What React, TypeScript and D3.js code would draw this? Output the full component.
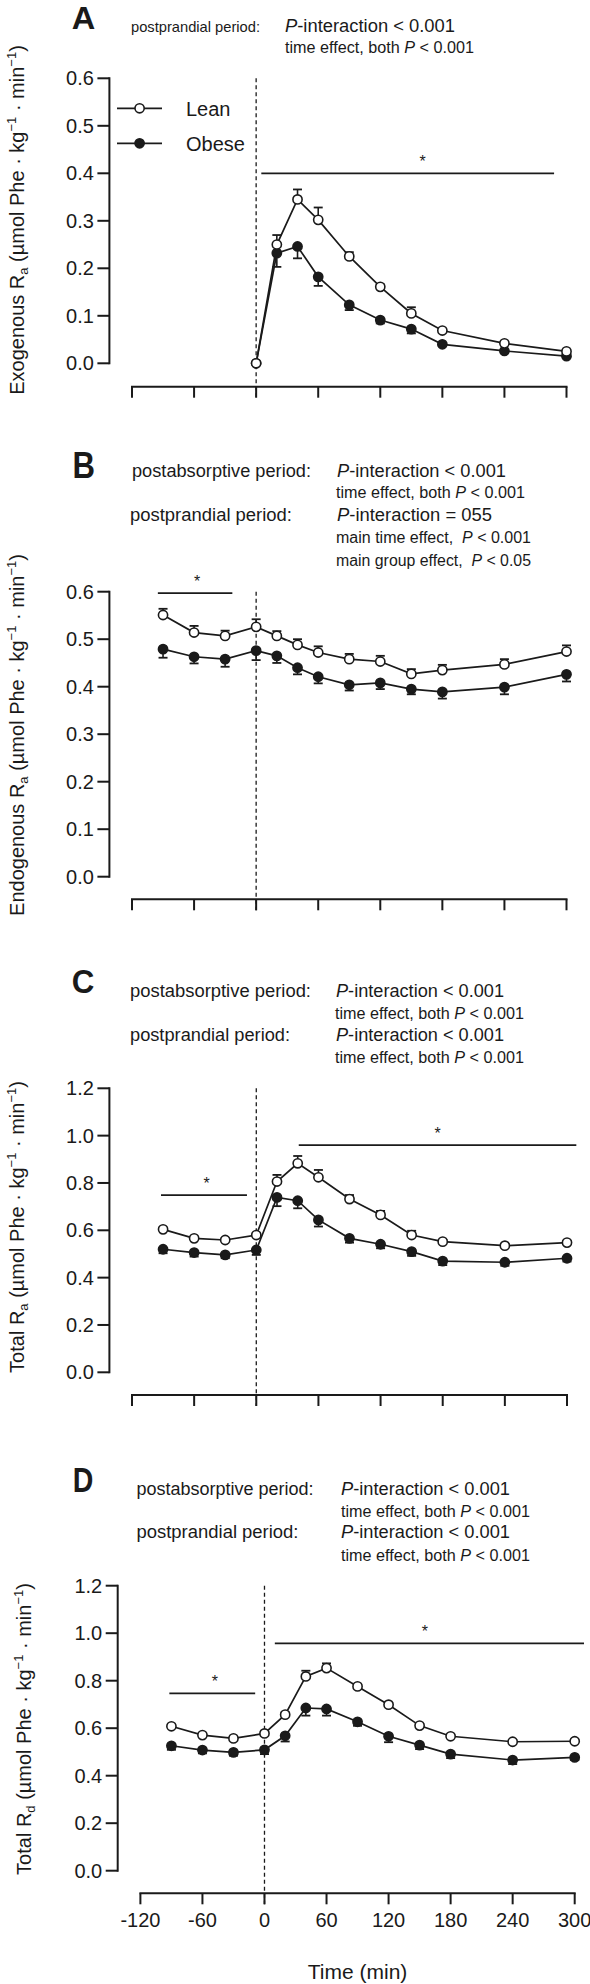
import React from 'react';
import * as d3 from 'd3';

// ---------- data ----------
const timesAll = [-90, -60, -30, 0, 20, 40, 60, 90, 120, 150, 180, 240, 300];
const timesPost = [0, 20, 40, 60, 90, 120, 150, 180, 240, 300];
const xTickValues = [-120, -60, 0, 60, 120, 180, 240, 300];
const yTicksSmall = [0, 0.1, 0.2, 0.3, 0.4, 0.5, 0.6];
const yTicksLarge = [0, 0.2, 0.4, 0.6, 0.8, 1.0, 1.2];

const exoLean = [0, 0.25, 0.345, 0.302, 0.225, 0.161, 0.105, 0.069, 0.042, 0.025];
const exoLeanSem = [0, 0.02, 0.021, 0.026, 0.009, 0.005, 0.013, 0.004, 0.004, 0.003];
const exoObese = [0, 0.232, 0.246, 0.182, 0.123, 0.091, 0.072, 0.04, 0.026, 0.015];
const exoObeseSem = [0, 0.029, 0.025, 0.019, 0.011, 0.007, 0.009, 0.004, 0.003, 0.003];

const endoLean = [0.551, 0.514, 0.507, 0.526, 0.507, 0.488, 0.472, 0.458, 0.453, 0.427, 0.435, 0.447, 0.474];
const endoLeanSem = [0.013, 0.014, 0.011, 0.016, 0.01, 0.012, 0.013, 0.011, 0.012, 0.01, 0.011, 0.011, 0.013];
const endoObese = [0.479, 0.463, 0.458, 0.476, 0.465, 0.44, 0.421, 0.404, 0.408, 0.395, 0.389, 0.399, 0.426];
const endoObeseSem = [0.018, 0.014, 0.016, 0.02, 0.015, 0.014, 0.014, 0.012, 0.013, 0.011, 0.014, 0.015, 0.015];

const raLean = [0.604, 0.566, 0.559, 0.58, 0.806, 0.883, 0.824, 0.732, 0.665, 0.58, 0.552, 0.535, 0.548];
const raLeanSem = [0.008, 0.008, 0.008, 0.008, 0.028, 0.031, 0.031, 0.017, 0.017, 0.018, 0.008, 0.008, 0.008];
const raObese = [0.52, 0.506, 0.496, 0.517, 0.739, 0.725, 0.644, 0.566, 0.541, 0.51, 0.47, 0.465, 0.482];
const raObeseSem = [0.017, 0.017, 0.014, 0.021, 0.037, 0.032, 0.028, 0.018, 0.017, 0.018, 0.017, 0.015, 0.014];

const rdLean = [0.608, 0.571, 0.557, 0.578, 0.657, 0.818, 0.853, 0.776, 0.699, 0.611, 0.566, 0.543, 0.545];
const rdLeanSem = [0.008, 0.008, 0.008, 0.008, 0.01, 0.024, 0.02, 0.008, 0.008, 0.008, 0.008, 0.008, 0.008];
const rdObese = [0.526, 0.508, 0.498, 0.509, 0.568, 0.685, 0.681, 0.627, 0.566, 0.529, 0.491, 0.466, 0.477];
const rdObeseSem = [0.017, 0.014, 0.014, 0.018, 0.024, 0.032, 0.028, 0.017, 0.025, 0.017, 0.017, 0.017, 0.011];

// significance bars: [from, to, level, asteriskTime]
const sigA = [[5, 288, 0.4, 161]];
const sigB = [[-95, -23, 0.597, -57]];
const sigC = [[-92, -9, 0.749, -48], [41, 309, 0.96, 175]];
const sigD = [[-92, -9, 0.747, -48], [10, 309, 0.957, 155]];

const FONT = '"Liberation Sans", Arial, Helvetica, sans-serif';

type Seg = { t: string; i?: boolean };
type HLine = { x: number; y: number; w: number; fs: number; segs: Seg[] };

const P = (rest: string): Seg[] => [{ t: 'P', i: true }, { t: rest }];
const timeBoth = (x: number, y: number): HLine => ({ x, y, w: 189, fs: 16.5, segs: [{ t: 'time effect, both ' }, { t: 'P', i: true }, { t: ' < 0.001' }] });

const headersA: HLine[] = [
  { x: 131, y: 32, w: 129, fs: 15, segs: [{ t: 'postprandial period:' }] },
  { x: 285, y: 32, w: 170, fs: 17.5, segs: P('-interaction < 0.001') },
  timeBoth(285, 53),
];
const headersB: HLine[] = [
  { x: 132, y: 477, w: 179, fs: 17.5, segs: [{ t: 'postabsorptive period:' }] },
  { x: 337, y: 477, w: 169, fs: 17.5, segs: P('-interaction < 0.001') },
  timeBoth(336, 498),
  { x: 130, y: 521, w: 162, fs: 17.5, segs: [{ t: 'postprandial period:' }] },
  { x: 337, y: 521, w: 155, fs: 17.5, segs: P('-interaction = 055') },
  { x: 336, y: 543, w: 195, fs: 16, segs: [{ t: 'main time effect,  ' }, { t: 'P', i: true }, { t: ' < 0.001' }] },
  { x: 336, y: 566, w: 195, fs: 16, segs: [{ t: 'main group effect,  ' }, { t: 'P', i: true }, { t: ' < 0.05' }] },
];
const headersC: HLine[] = [
  { x: 130, y: 997, w: 181, fs: 17.5, segs: [{ t: 'postabsorptive period:' }] },
  { x: 336, y: 997, w: 168, fs: 17.5, segs: P('-interaction < 0.001') },
  timeBoth(335, 1019),
  { x: 130, y: 1041, w: 160, fs: 17.5, segs: [{ t: 'postprandial period:' }] },
  { x: 336, y: 1041, w: 168, fs: 17.5, segs: P('-interaction < 0.001') },
  timeBoth(335, 1063),
];
const headersD: HLine[] = [
  { x: 136.5, y: 1495, w: 177, fs: 17.5, segs: [{ t: 'postabsorptive period:' }] },
  { x: 341, y: 1495, w: 169, fs: 17.5, segs: P('-interaction < 0.001') },
  timeBoth(341, 1517),
  { x: 136.5, y: 1538, w: 162, fs: 17.5, segs: [{ t: 'postprandial period:' }] },
  { x: 341, y: 1538, w: 169, fs: 17.5, segs: P('-interaction < 0.001') },
  timeBoth(341, 1561),
];

type Series = { t: number[]; v: number[]; e: number[] };
type PanelCfg = {
  letter: string; letterX: number; letterY: number; letterFs: number; letterW: number;
  headers: HLine[];
  yAxisX: number; yTop: number; yBottom: number; yMax: number; yTicks: number[];
  xAxisY: number; x0: number; x1: number;
  lean: Series; obese: Series;
  sig: number[][];
  labelMain: string; labelSub: string; labelCx: number; labelCy: number;
  xLabels?: boolean; legend?: boolean;
};

const panels: PanelCfg[] = [
  {
    letter: 'A', letterX: 71.7, letterY: 29, letterFs: 31, letterW: 23.5, headers: headersA,
    yAxisX: 109.4, yTop: 78.3, yBottom: 363.3, yMax: 0.6, yTicks: yTicksSmall,
    xAxisY: 386.7, x0: 132, x1: 566.5,
    lean: { t: timesPost, v: exoLean, e: exoLeanSem },
    obese: { t: timesPost, v: exoObese, e: exoObeseSem },
    sig: sigA, labelMain: 'Exogenous R', labelSub: 'a', labelCx: 23.5, labelCy: 220, legend: true,
  },
  {
    letter: 'B', letterX: 72.5, letterY: 478, letterFs: 36, letterW: 22.5, headers: headersB,
    yAxisX: 109.4, yTop: 591.7, yBottom: 876.7, yMax: 0.6, yTicks: yTicksSmall,
    xAxisY: 899.3, x0: 132, x1: 566.5,
    lean: { t: timesAll, v: endoLean, e: endoLeanSem },
    obese: { t: timesAll, v: endoObese, e: endoObeseSem },
    sig: sigB, labelMain: 'Endogenous R', labelSub: 'a', labelCx: 23.5, labelCy: 735,
  },
  {
    letter: 'C', letterX: 71.7, letterY: 993, letterFs: 34, letterW: 22.6, headers: headersC,
    yAxisX: 109.4, yTop: 1088.3, yBottom: 1372.3, yMax: 1.2, yTicks: yTicksLarge,
    xAxisY: 1395, x0: 132, x1: 567,
    lean: { t: timesAll, v: raLean, e: raLeanSem },
    obese: { t: timesAll, v: raObese, e: raObeseSem },
    sig: sigC, labelMain: 'Total R', labelSub: 'a', labelCx: 23.5, labelCy: 1227,
  },
  {
    letter: 'D', letterX: 72.7, letterY: 1492, letterFs: 35, letterW: 20.6, headers: headersD,
    yAxisX: 117.7, yTop: 1585.7, yBottom: 1870.7, yMax: 1.2, yTicks: yTicksLarge,
    xAxisY: 1893.3, x0: 140.4, x1: 574.7,
    lean: { t: timesAll, v: rdLean, e: rdLeanSem },
    obese: { t: timesAll, v: rdObese, e: rdObeseSem },
    sig: sigD, labelMain: 'Total R', labelSub: 'd', labelCx: 31, labelCy: 1729, xLabels: true,
  },
];

const INK = '#1a1a1a';

function Header({ h }: { h: HLine }) {
  return (
    <text x={h.x} y={h.y} fontSize={h.fs} fontFamily={FONT} fill={INK} textLength={h.w} lengthAdjust="spacingAndGlyphs" xmlSpace="preserve">
      {h.segs.map((s, i) => (
        <tspan key={i} fontStyle={s.i ? 'italic' : 'normal'}>{s.t}</tspan>
      ))}
    </text>
  );
}

function Panel({ p }: { p: PanelCfg }) {
  const x = d3.scaleLinear().domain([-120, 300]).range([p.x0, p.x1]);
  const y = d3.scaleLinear().domain([0, p.yMax]).range([p.yBottom, p.yTop]);
  const path = (s: Series) =>
    d3.line<number>().x((_, i) => x(s.t[i])).y((d) => y(d))(s.v) || '';
  const fmt = d3.format('.1f');
  const cap = 4.5;
  const errBars = (s: Series, dir: number) =>
    s.v.map((v, i) => {
      if (s.e[i] <= 0) return null;
      const xx = x(s.t[i]);
      const y1 = y(v + dir * s.e[i]);
      return (
        <g key={i}>
          <line x1={xx} x2={xx} y1={y(v)} y2={y1} stroke={INK} strokeWidth={1.6} />
          <line x1={xx - cap} x2={xx + cap} y1={y1} y2={y1} stroke={INK} strokeWidth={1.8} />
        </g>
      );
    });
  const markers = (s: Series, filled: boolean) =>
    s.v.map((v, i) => (
      <circle key={i} cx={x(s.t[i])} cy={y(v)} r={4.6} fill={filled ? INK : '#fff'} stroke={INK} strokeWidth={1.6} />
    ));
  const tickLen = 11;
  return (
    <g>
      <text x={p.letterX} y={p.letterY} fontSize={p.letterFs} fontWeight="bold" fontFamily={FONT} fill={INK} textLength={p.letterW} lengthAdjust="spacingAndGlyphs">{p.letter}</text>
      {p.headers.map((h, i) => <Header key={i} h={h} />)}
      {/* y axis */}
      <line x1={p.yAxisX} x2={p.yAxisX} y1={y(p.yMax) - 1} y2={y(0) + 1} stroke={INK} strokeWidth={2} />
      {p.yTicks.map((t) => (
        <g key={t}>
          <line x1={p.yAxisX - 12} x2={p.yAxisX} y1={y(t)} y2={y(t)} stroke={INK} strokeWidth={2} />
          <text x={p.yAxisX - 15.5} y={y(t) + 7} fontSize={20} fontFamily={FONT} textAnchor="end" fill={INK}>{fmt(t)}</text>
        </g>
      ))}
      {/* x axis */}
      <line x1={x(-120) - 1} x2={x(300) + 1} y1={p.xAxisY} y2={p.xAxisY} stroke={INK} strokeWidth={2} />
      {xTickValues.map((t) => (
        <g key={t}>
          <line x1={x(t)} x2={x(t)} y1={p.xAxisY} y2={p.xAxisY + tickLen} stroke={INK} strokeWidth={2} />
          {p.xLabels && (
            <text x={x(t)} y={p.xAxisY + 34} fontSize={20} fontFamily={FONT} textAnchor="middle" fill={INK}>{t}</text>
          )}
        </g>
      ))}
      {p.xLabels && (
        <text x={x(90)} y={p.xAxisY + 86} fontSize={21} fontFamily={FONT} textAnchor="middle" fill={INK}>Time (min)</text>
      )}
      {/* dashed line at time 0 */}
      <line x1={x(0)} x2={x(0)} y1={y(p.yMax)} y2={p.xAxisY + tickLen} stroke={INK} strokeWidth={1.3} strokeDasharray="4,3" />
      {/* y label */}
      <text transform={`translate(${p.labelCx},${p.labelCy}) rotate(-90)`} fontSize={20} fontFamily={FONT} textAnchor="middle" fill={INK} xmlSpace="preserve">
        <tspan>{p.labelMain}</tspan>
        <tspan fontSize={13} dy={4}>{p.labelSub}</tspan>
        <tspan dy={-4}>{' (µmol Phe · kg'}</tspan>
        <tspan fontSize={13} dy={-8}>{'−1'}</tspan>
        <tspan dy={8}>{' · min'}</tspan>
        <tspan fontSize={13} dy={-8}>{'−1'}</tspan>
        <tspan dy={8}>{')'}</tspan>
      </text>
      {/* significance */}
      {p.sig.map((s, i) => (
        <g key={i}>
          <line x1={x(s[0])} x2={x(s[1])} y1={y(s[2])} y2={y(s[2])} stroke={INK} strokeWidth={1.8} />
          <text x={x(s[3])} y={y(s[2]) - 6} fontSize={16} fontFamily={FONT} textAnchor="middle" fill={INK}>*</text>
        </g>
      ))}
      {/* series */}
      <path d={path(p.obese)} fill="none" stroke={INK} strokeWidth={1.7} />
      <path d={path(p.lean)} fill="none" stroke={INK} strokeWidth={1.7} />
      {errBars(p.obese, -1)}
      {errBars(p.lean, 1)}
      {markers(p.obese, true)}
      {markers(p.lean, false)}
      {p.legend && (
        <g>
          <line x1={117} x2={162} y1={108.3} y2={108.3} stroke={INK} strokeWidth={1.7} />
          <circle cx={139.6} cy={108.3} r={4.6} fill="#fff" stroke={INK} strokeWidth={1.6} />
          <text x={186} y={115.5} fontSize={20} fontFamily={FONT} fill={INK}>Lean</text>
          <line x1={117} x2={162} y1={143.3} y2={143.3} stroke={INK} strokeWidth={1.7} />
          <circle cx={139.6} cy={143.3} r={4.6} fill={INK} stroke={INK} strokeWidth={1.6} />
          <text x={186} y={150.5} fontSize={20} fontFamily={FONT} fill={INK}>Obese</text>
        </g>
      )}
    </g>
  );
}

export default function App() {
  return (
    <svg width={590} height={1984} viewBox="0 0 590 1984" style={{ position: 'absolute', left: 0, top: 0, background: '#fff' }}>
      <rect x={0} y={0} width={590} height={1984} fill="#fff" />
      {panels.map((p) => <Panel key={p.letter} p={p} />)}
    </svg>
  );
}
